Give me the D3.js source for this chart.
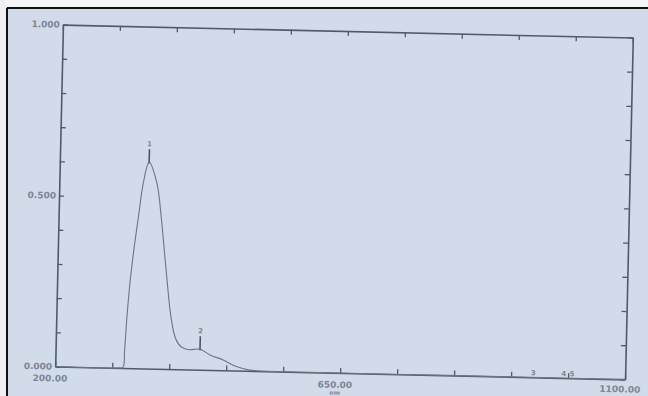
<!DOCTYPE html>
<html>
<head>
<meta charset="utf-8">
<script src="https://cdn.jsdelivr.net/npm/d3@7"></script>
<style>
  html, body { margin: 0; padding: 0; background: #fff; }
  svg { display: block; }
  .lbl { font-family: "DejaVu Sans", sans-serif; font-size: 9px; font-weight: bold; fill: #7d8697; }
</style>
</head>
<body>
<svg id="chart" width="648" height="396"></svg>
<script>
// spectrum (wavelength nm, absorbance)
const wavelengths = [200, 300, 307, 309, 311.5, 315, 320, 326, 332.5, 341, 354, 362, 368, 374, 381, 389, 398, 410, 428, 444, 465, 487, 505, 600, 800, 1000, 1100];
const absorbance  = [0, 0, 0.002, 0.053, 0.149, 0.249, 0.346, 0.442, 0.542, 0.603, 0.543, 0.444, 0.348, 0.251, 0.152, 0.090, 0.066, 0.058, 0.060, 0.044, 0.030, 0.011, 0.003, 0, 0, 0, 0];

// picked peaks
const peakWl = [341, 428];
const peakAbs = [0.603, 0.060];
const peakLabels = ["1", "2"];

// small marks sitting on the baseline
const baseWl = [955, 1003, 1016];
const baseLabels = ["3", "4", "5"];

// axis labels
const xTickLabels = ["200.00", "650.00", "1100.00"];
const xLabelValues = [200, 650, 1100];
const yTickLabels = ["0.000", "0.500", "1.000"];
const yLabelValues = [0, 0.5, 1];
const xUnit = "nm";

const svg = d3.select('#chart');
const W = 570, H = 342;

// photo background and paper edge
svg.append('rect').attr('width', 648).attr('height', 396).attr('fill', '#d2dbe9');
svg.append('rect').attr('width', 648).attr('height', 7).attr('fill', '#f4f5f7');
svg.append('rect').attr('width', 6).attr('height', 396).attr('fill', '#eef0f3');
svg.append('line').attr('x1', 7).attr('x2', 648).attr('y1', 8).attr('y2', 8)
   .attr('stroke', '#111').attr('stroke-width', 2);
svg.append('line').attr('x1', 7).attr('x2', 7).attr('y1', 8).attr('y2', 396)
   .attr('stroke', '#111').attr('stroke-width', 2);

// the printout is photographed slightly tilted
const g = svg.append('g')
   .attr('transform', `translate(59,31) rotate(1.3, ${W / 2}, ${H / 2})`);

const x = d3.scaleLinear().domain([200, 1100]).range([0, W]);
const y = d3.scaleLinear().domain([0, 1]).range([H, 0]);

const xTicks = d3.range(0, 11).map(i => 200 + i * 90);
const yTicks = d3.range(0, 11).map(i => i / 10);

function styleAxis(sel) {
  sel.select('.domain').attr('stroke', '#525a69').attr('stroke-width', 1.6);
  sel.selectAll('.tick line').attr('stroke', '#525a69').attr('stroke-width', 1.3);
}

g.append('g').attr('transform', `translate(0,${H})`)
 .call(d3.axisBottom(x).tickValues(xTicks).tickSize(-5).tickSizeOuter(0).tickFormat(''))
 .call(styleAxis);
g.append('g')
 .call(d3.axisTop(x).tickValues(xTicks).tickSize(-5).tickSizeOuter(0).tickFormat(''))
 .call(styleAxis);
g.append('g')
 .call(d3.axisLeft(y).tickValues(yTicks).tickSize(-5).tickSizeOuter(0).tickFormat(''))
 .call(styleAxis);
g.append('g').attr('transform', `translate(${W},0)`)
 .call(d3.axisRight(y).tickValues(yTicks).tickSize(-5).tickSizeOuter(0).tickFormat(''))
 .call(styleAxis);

// tick labels
g.selectAll('.ylab')
 .data(yLabelValues)
 .join('text')
 .attr('class', 'lbl')
 .attr('x', -3)
 .attr('y', d => y(d))
 .attr('dy', '0.35em')
 .attr('text-anchor', 'end')
 .text((d, i) => yTickLabels[i]);

g.selectAll('.xlab')
 .data(xLabelValues)
 .join('text')
 .attr('class', 'lbl')
 .attr('x', d => x(d) - 5)
 .attr('y', d => d === 1100 ? H + 13 : H + 15)
 .attr('text-anchor', 'middle')
 .text((d, i) => xTickLabels[i]);

g.append('text').attr('class', 'lbl')
 .attr('x', x(650) - 5).attr('y', H + 22)
 .attr('text-anchor', 'middle')
 .style('font-size', '6px')
 .text(xUnit);

// spectrum
const line = d3.line()
  .x(d => x(d[0]))
  .y(d => y(d[1]))
  .curve(d3.curveCatmullRom.alpha(0.5));

g.append('path')
 .datum(d3.zip(wavelengths, absorbance))
 .attr('d', line)
 .attr('fill', 'none')
 .attr('stroke', '#6c7585')
 .attr('stroke-width', 1.1);

// peak pick marks
const peaks = d3.zip(peakWl, peakAbs, peakLabels);
g.selectAll('.pk')
 .data(peaks)
 .join('line')
 .attr('x1', d => x(d[0])).attr('x2', d => x(d[0]))
 .attr('y1', d => y(d[1]) - 13).attr('y2', d => y(d[1]) + 1)
 .attr('stroke', '#4d5564').attr('stroke-width', 1.6);

g.selectAll('.pklab')
 .data(peaks)
 .join('text')
 .attr('class', 'lbl')
 .attr('x', d => x(d[0]))
 .attr('y', d => y(d[1]) - 16)
 .attr('text-anchor', 'middle')
 .style('font-size', '7px')
 .text(d => d[2]);

g.selectAll('.baselab')
 .data(d3.zip(baseWl, baseLabels))
 .join('text')
 .attr('class', 'lbl')
 .attr('x', d => x(d[0]))
 .attr('y', y(0) - 2)
 .attr('text-anchor', 'middle')
 .style('font-size', '7px')
 .text(d => d[1]);
</script>
</body>
</html>
